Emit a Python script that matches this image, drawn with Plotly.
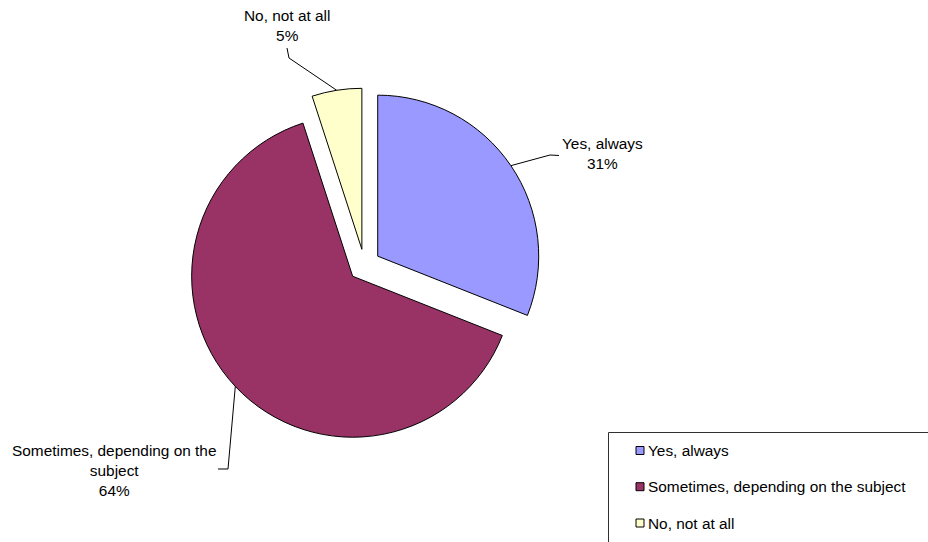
import math
import plotly.graph_objects as go

# Survey answers and their shares (percent)
labels = ["Yes, always", "Sometimes, depending on the subject", "No, not at all"]
values = [31, 64, 5]
colors = ["#9999FF", "#993366", "#FFFFCC"]
# Wrapped versions of the labels used for the callouts
callout_names = ["Yes, always", "Sometimes, depending on the<br>subject", "No, not at all"]

W, H = 928, 542
CX, CY = 364.4, 265.2      # pie centre (px)
R = 161                    # pie radius (px)
PULL = 0.1                 # explode fraction for every slice
FONT = dict(family="Liberation Sans, Arial, sans-serif", size=15.4, color="black")

# Callout layout: elbow points of the leader line and the label centre (px)
callout_paths = [
    [(550, 155), (559, 155.5)],
    [(228, 469), (218, 469)],
    [(289, 58), (287, 48)],
]
callout_centres = [(602, 154), (114.5, 470), (287, 25.4)]


def px(x, y):
    return x / W, 1 - y / H


half = R * (1 + PULL)
dom_x = [(CX - half) / W, (CX + half) / W]
dom_y = [1 - (CY + half) / H, 1 - (CY - half) / H]

fig = go.Figure(
    go.Pie(
        labels=labels,
        values=values,
        sort=False,
        direction="clockwise",
        rotation=0,
        pull=[PULL] * len(values),
        marker=dict(colors=colors, line=dict(color="black", width=1)),
        textinfo="none",
        hoverinfo="label+percent",
        showlegend=False,
        domain=dict(x=dom_x, y=dom_y),
    )
)

shapes = []
annotations = []
total = sum(values)
cum = 0
for i, v in enumerate(values):
    mid = (cum + v / 2) / total * 2 * math.pi
    cum += v
    # point on the outer arc at the slice's middle angle (exploded slice)
    ax = CX + R * (1 + PULL) * math.sin(mid)
    ay = CY - R * (1 + PULL) * math.cos(mid)
    pts = [(ax, ay)] + callout_paths[i]
    path = "M " + " L ".join(
        f"{px(x, y)[0]:.5f},{px(x, y)[1]:.5f}" for x, y in pts
    )
    shapes.append(dict(type="path", xref="paper", yref="paper", path=path,
                       line=dict(color="black", width=1)))
    pct = round(v / total * 100)
    lx, ly = px(*callout_centres[i])
    annotations.append(dict(
        x=lx, y=ly, xref="paper", yref="paper", xanchor="center", yanchor="middle",
        text=f"{callout_names[i]}<br>{pct}%", showarrow=False, align="center", font=FONT,
    ))

# Legend box (runs off the right and bottom edges)
x0, y0 = px(608.5, 432.5)
x1, y1 = px(945, 560)
shapes.append(dict(type="rect", xref="paper", yref="paper", x0=x0, y0=y1, x1=x1, y1=y0,
                   line=dict(color="#303030", width=1), fillcolor="rgba(0,0,0,0)"))
legend_rows = [450.5, 486.7, 523]
for i, name in enumerate(labels):
    yc = legend_rows[i]
    sx0, sy0 = px(636, yc - 4)
    sx1, sy1 = px(644, yc + 4)
    shapes.append(dict(type="rect", xref="paper", yref="paper", x0=sx0, y0=sy1, x1=sx1, y1=sy0,
                       line=dict(color="black", width=1), fillcolor=colors[i]))
    tx, ty = px(646, yc)
    annotations.append(dict(x=tx, y=ty, xref="paper", yref="paper", xanchor="left",
                            yanchor="middle", text=name, showarrow=False, font=FONT))

fig.update_layout(
    width=W, height=H,
    margin=dict(l=0, r=0, t=0, b=0),
    paper_bgcolor="white",
    plot_bgcolor="white",
    shapes=shapes,
    annotations=annotations,
)

fig.write_html("out.html")
